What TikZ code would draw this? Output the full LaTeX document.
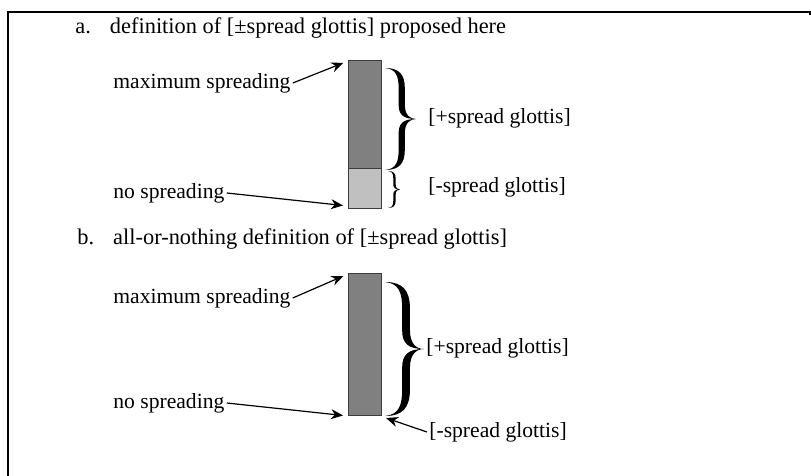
\documentclass[tikz,border=0pt]{standalone}
\usepackage{fontspec}
\setmainfont{Liberation Serif}
\usetikzlibrary{arrows.meta}

% curly brace: top end, width, height (picture units)
\newcommand{\curlybrace}[3]{%
  \begin{scope}[shift={#1}, xscale=#2, yscale=#3]
    \fill (0,0) .. controls (0.45,0) and (0.64,0.06) .. (0.64,0.2)
      -- (0.64,0.36) .. controls (0.64,0.46) and (0.8,0.5) .. (1,0.5)
      .. controls (0.8,0.5) and (0.64,0.54) .. (0.64,0.64)
      -- (0.64,0.8) .. controls (0.64,0.94) and (0.45,1) .. (0,1)
      .. controls (0.36,0.99) and (0.44,0.92) .. (0.44,0.8)
      -- (0.44,0.64) .. controls (0.44,0.54) and (0.6,0.5) .. (1,0.5)
      .. controls (0.6,0.5) and (0.44,0.46) .. (0.44,0.36)
      -- (0.44,0.2) .. controls (0.44,0.08) and (0.36,0.01) .. (0,0) -- cycle;
  \end{scope}}

\begin{document}
\begin{tikzpicture}[x=0.5pt, y=-0.5pt,
    every node/.style={font=\fontsize{10.8}{13}\selectfont},
    lbl/.style={inner sep=1pt, anchor=west},
    heading/.style={lbl, font=\fontsize{11.2}{13.5}\selectfont},
    bar/.style={draw=bardraw, line width=0.5pt, minimum width=16.5pt, inner sep=0pt, outer sep=0pt},
    arr/.style={line width=0.6pt, -{Stealth[length=6pt, width=5pt]}}]
    % Define colors
    \definecolor{bardark}{RGB}{128,128,128}
    \definecolor{barlight}{RGB}{192,192,192}
    \definecolor{bardraw}{RGB}{60,60,60}

    \useasboundingbox (0,0) rectangle (811,476);

    % Frame
    \draw[line width=1.2pt] (8,476) -- (8,12) -- (810,12) -- (810,15);

    % a. graded definition
    \node[heading] (titleA) at (73,28) {a.\hspace{0.85em}definition of [±spread glottis] proposed here};
    \node[bar, fill=bardark, minimum height=54pt] (hiA) at (364.5,115) {};
    \node[bar, fill=barlight, minimum height=20pt] (loA) at (364.5,189) {};
    \node[lbl] (maxA) at (111,83) {maximum spreading};
    \node[lbl] (noA) at (111,193) {no spreading};
    \draw[arr, shorten >=2.5pt] (maxA.east) -- (hiA.north west);
    \draw[arr, shorten >=2.5pt] (noA.east) -- ([yshift=1.5pt]loA.south west);
    \curlybrace{(385,68)}{31}{102}
    \curlybrace{(388,171)}{12}{37}
    \node[lbl] (plusA) at (426,118) {[+spread glottis]};
    \node[lbl] (minusA) at (426,187) {[-spread glottis]};

    % b. all-or-nothing definition
    \node[heading] (titleB) at (75,239) {b.\hspace{0.85em}all-or-nothing definition of [±spread glottis]};
    \node[bar, fill=bardark, minimum height=71pt] (barB) at (364.5,345) {};
    \node[lbl] (maxB) at (111,298) {maximum spreading};
    \node[lbl] (noB) at (111,403) {no spreading};
    \draw[arr, shorten >=2.5pt] (maxB.east) -- (barB.north west);
    \draw[arr, shorten >=2.5pt] (noB.east) -- (barB.south west);
    \curlybrace{(385,282)}{39}{134}
    \coordinate (endB) at (386,418);
    \node[lbl] (plusB) at (424,348) {[+spread glottis]};
    \node[lbl] (minusB) at (427,432) {[-spread glottis]};
    \draw[arr] (minusB.west) -- (endB);
\end{tikzpicture}
\end{document}
